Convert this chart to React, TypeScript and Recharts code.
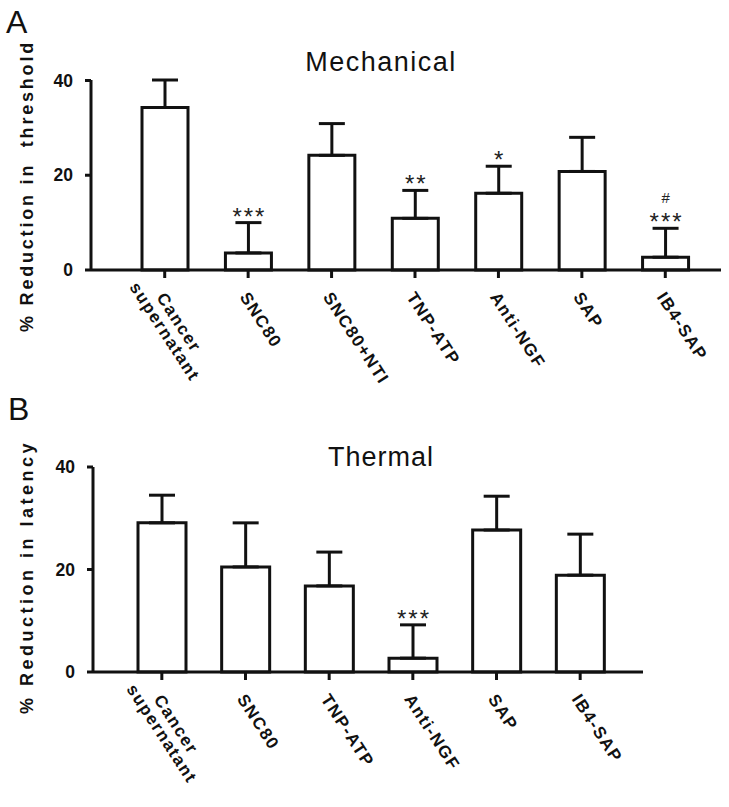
import React from "react";
import { BarChart, Bar, XAxis, YAxis, ErrorBar, LabelList } from "recharts";

// Panel A - mechanical
const catsA = ["Cancer\nsupernatant", "SNC80", "SNC80+NTI", "TNP-ATP", "Anti-NGF", "SAP", "IB4-SAP"];
const meanA = [34.3, 3.6, 24.2, 10.9, 16.2, 20.8, 2.7];
const semA = [5.8, 6.4, 6.7, 5.9, 5.7, 7.2, 6.1];
const sigA = ["", "***", "", "**", "*", "", "***"];
const hashA = ["", "", "", "", "", "", "#"];

// Panel B - thermal
const catsB = ["Cancer\nsupernatant", "SNC80", "TNP-ATP", "Anti-NGF", "SAP", "IB4-SAP"];
const meanB = [29.1, 20.5, 16.8, 2.7, 27.7, 18.9];
const semB = [5.4, 8.6, 6.6, 6.5, 6.6, 8.0];
const sigB = ["", "", "", "***", "", ""];

const yTicks = [0, 20, 40];

const FONT = "'Liberation Sans', Arial, Helvetica, sans-serif";

const dataA = catsA.map((name, i) => ({ name, mean: meanA[i], err: [0, semA[i]], sem: semA[i], sig: sigA[i], hash: hashA[i] }));
const dataB = catsB.map((name, i) => ({ name, mean: meanB[i], err: [0, semB[i]], sem: semB[i], sig: sigB[i], hash: "" }));

function CatTick(props: any) {
  const { x, y, payload } = props;
  const lines = String(payload.value).split("\n");
  const multi = lines.length > 1;
  return (
    <g transform={`translate(${x - 9},${y + 17})`}>
      <text transform="rotate(57)" fontFamily={FONT} fontWeight="bold" fontSize={17} fill="#111" letterSpacing={1.5}>
        {lines.map((l, i) => (
          <tspan key={i} x={multi ? 34 : 0} dy={i === 0 ? 0 : 17} textAnchor={multi ? "middle" : "start"}>
            {l}
          </tspan>
        ))}
      </text>
    </g>
  );
}

function makeSig(data: any[]) {
  return (props: any) => {
    const vb = props.viewBox || props;
    const x = vb.x ?? props.x;
    const y = vb.y ?? props.y;
    const w = vb.width ?? props.width;
    const h = vb.height ?? props.height;
    const d = data[props.index];
    if (!d || !d.sig) return null;
    const ppu = Math.abs(h) / d.mean;
    const errTop = Math.min(y, y + h) - d.sem * ppu;
    const cx = x + w / 2;
    return (
      <g>
        <text x={cx + 1} y={errTop + 2} textAnchor="middle" fontFamily={FONT} fontSize={24} fill="#222" letterSpacing={2}>
          {d.sig}
        </text>
        {d.hash ? (
          <text x={cx} y={errTop - 25} textAnchor="middle" fontFamily={FONT} fontSize={15} fill="#222">
            {d.hash}
          </text>
        ) : null}
      </g>
    );
  };
}

function yTitle(text: string, cy: number, spacing: number) {
  return () => (
    <text
      x={33}
      y={cy}
      transform={`rotate(-90, 33, ${cy})`}
      textAnchor="middle"
      fontFamily={FONT}
      fontWeight="bold"
      fontSize={18}
      fill="#111"
      letterSpacing={spacing}
      style={{ whiteSpace: "pre" }}
    >
      {text}
    </text>
  );
}

const axisStroke = { stroke: "#111", strokeWidth: 3 };

function Panel(props: {
  data: any[];
  height: number;
  margin: any;
  yWidth: number;
  xHeight: number;
  pad: { left: number; right: number };
  barSize: number;
  title: string;
  titleCy: number;
  spacing: number;
}) {
  const { data } = props;
  return (
    <BarChart width={729} height={props.height} data={data} margin={props.margin}>
      <XAxis
        dataKey="name"
        interval={0}
        tick={<CatTick />}
        tickSize={8}
        axisLine={axisStroke}
        tickLine={axisStroke}
        padding={props.pad}
        height={props.xHeight}
      />
      <YAxis
        domain={[0, 40]}
        ticks={yTicks}
        width={props.yWidth}
        tickSize={6}
        tickMargin={12}
        axisLine={axisStroke}
        tickLine={axisStroke}
        tick={{ fill: "#111", fontSize: 17.5, fontWeight: "bold", fontFamily: FONT }}
        label={{ content: yTitle(props.title, props.titleCy, props.spacing) } as any}
      />
      <Bar dataKey="mean" fill="#fff" stroke="#111" strokeWidth={3} barSize={props.barSize} isAnimationActive={false}>
        <ErrorBar dataKey="err" direction="y" width={13} stroke="#111" strokeWidth={3} />
        <LabelList dataKey="sig" content={makeSig(data)} />
      </Bar>
    </BarChart>
  );
}

export default function App() {
  return (
    <div style={{ position: "absolute", left: 0, top: 0, width: 729, height: 807, background: "#fff", fontFamily: FONT, color: "#111" }}>
      <div style={{ position: "absolute", left: 0, top: 0 }}>
        <Panel
          data={dataA}
          height={390}
          margin={{ top: 80, right: 8, left: 0, bottom: 0 }}
          yWidth={91}
          xHeight={120}
          pad={{ left: 32, right: 14 }}
          barSize={46}
          title={"% Reduction in  threshold"}
          titleCy={186}
          spacing={2.8}
        />
      </div>
      <div style={{ position: "absolute", left: 0, top: 390 }}>
        <Panel
          data={dataB}
          height={417}
          margin={{ top: 77, right: 86, left: 0, bottom: 0 }}
          yWidth={93}
          xHeight={135}
          pad={{ left: 27, right: 21 }}
          barSize={48}
          title={"% Reduction in latency"}
          titleCy={187}
          spacing={3.5}
        />
      </div>
      <div style={{ position: "absolute", left: 6, top: 6, fontSize: 32, lineHeight: "32px" }}>A</div>
      <div style={{ position: "absolute", left: 8, top: 393, fontSize: 32, lineHeight: "32px" }}>B</div>
      <div style={{ position: "absolute", left: 181, width: 400, top: 49, textAlign: "center", fontSize: 27, lineHeight: "27px", letterSpacing: 1.5 }}>
        Mechanical
      </div>
      <div style={{ position: "absolute", left: 181, width: 400, top: 444, textAlign: "center", fontSize: 27, lineHeight: "27px", letterSpacing: 1 }}>
        Thermal
      </div>
    </div>
  );
}
